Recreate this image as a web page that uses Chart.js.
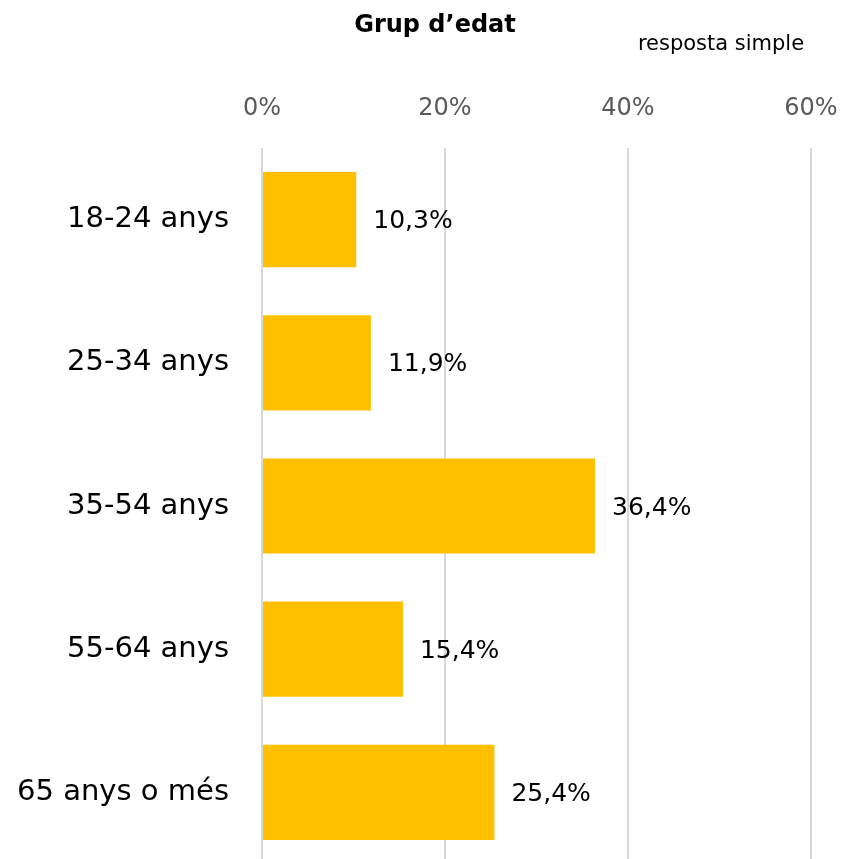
<!DOCTYPE html>
<html lang="ca">

<head>
    <meta charset="UTF-8">
    <title>Grup d'edat</title>
    <script src="https://cdn.jsdelivr.net/npm/chart.js"></script>
    <style>
        body {
            margin: 0;
            overflow: hidden;
            background: #fff;
        }

        canvas {
            display: block;
        }
    </style>
</head>

<body>
    <canvas id="ageChart" width="842" height="864"></canvas>

    <script>
        // Data
        var ageGroups = ['18-24 anys', '25-34 anys', '35-54 anys', '55-64 anys', '65 anys o més'];
        var shares = [10.3, 11.9, 36.4, 15.4, 25.4];
        var axisTicks = [0, 20, 40, 60];
        var chartTitle = 'Grup d\u2019edat';
        var chartNote = 'resposta simple';

        var FONT = '"DejaVu Sans", sans-serif';

        function fmt(v) {
            return v.toFixed(1).replace('.', ',') + '%';
        }

        // title, note and value labels
        var textPlugin = {
            id: 'textPlugin',
            afterDatasetsDraw: function (chart) {
                var ctx = chart.ctx;
                ctx.save();
                ctx.fillStyle = '#000';
                ctx.textBaseline = 'middle';

                ctx.textAlign = 'center';
                ctx.font = 'bold 24px ' + FONT;
                ctx.fillText(chartTitle, 435, 26);
                ctx.font = '21px ' + FONT;
                ctx.fillText(chartNote, 721, 45);

                ctx.textAlign = 'left';
                ctx.font = '25px ' + FONT;
                chart.getDatasetMeta(0).data.forEach(function (bar, i) {
                    ctx.fillText(fmt(shares[i]), bar.x + 17, bar.y + 2);
                });
                ctx.restore();
            }
        };

        var ctx = document.getElementById('ageChart').getContext('2d');
        var ageChart = new Chart(ctx, {
            type: 'bar',
            data: {
                labels: ageGroups,
                datasets: [{
                    data: shares,
                    backgroundColor: '#FFC000',
                    borderWidth: 0,
                    categoryPercentage: 1,
                    barPercentage: 0.665
                }]
            },
            options: {
                indexAxis: 'y',
                responsive: false,
                animation: false,
                layout: {
                    padding: { top: 0, right: 31, bottom: 0, left: 0 }
                },
                plugins: {
                    legend: { display: false },
                    tooltip: { enabled: false }
                },
                scales: {
                    x: {
                        position: 'top',
                        min: axisTicks[0],
                        max: axisTicks[axisTicks.length - 1],
                        afterBuildTicks: function (scale) {
                            scale.ticks = axisTicks.map(function (v) { return { value: v }; });
                        },
                        // fixed header height, no extra side padding from labels
                        afterFit: function (scale) {
                            scale.height = 148;
                            scale.paddingLeft = 0;
                            scale.paddingRight = 0;
                        },
                        ticks: {
                            callback: function (v) { return v + '%'; },
                            font: { family: FONT, size: 24 },
                            color: '#595959',
                            padding: 25
                        },
                        grid: {
                            color: '#d9d9d9',
                            lineWidth: 2,
                            drawTicks: false
                        },
                        border: { display: false }
                    },
                    y: {
                        afterFit: function (scale) {
                            scale.width = 262;
                            scale.paddingTop = 0;
                            scale.paddingBottom = 0;
                        },
                        ticks: {
                            font: { family: FONT, size: 29 },
                            color: '#000',
                            padding: 33
                        },
                        grid: { display: false, drawTicks: false },
                        border: { display: false }
                    }
                }
            },
            plugins: [textPlugin]
        });
    </script>
</body>

</html>
